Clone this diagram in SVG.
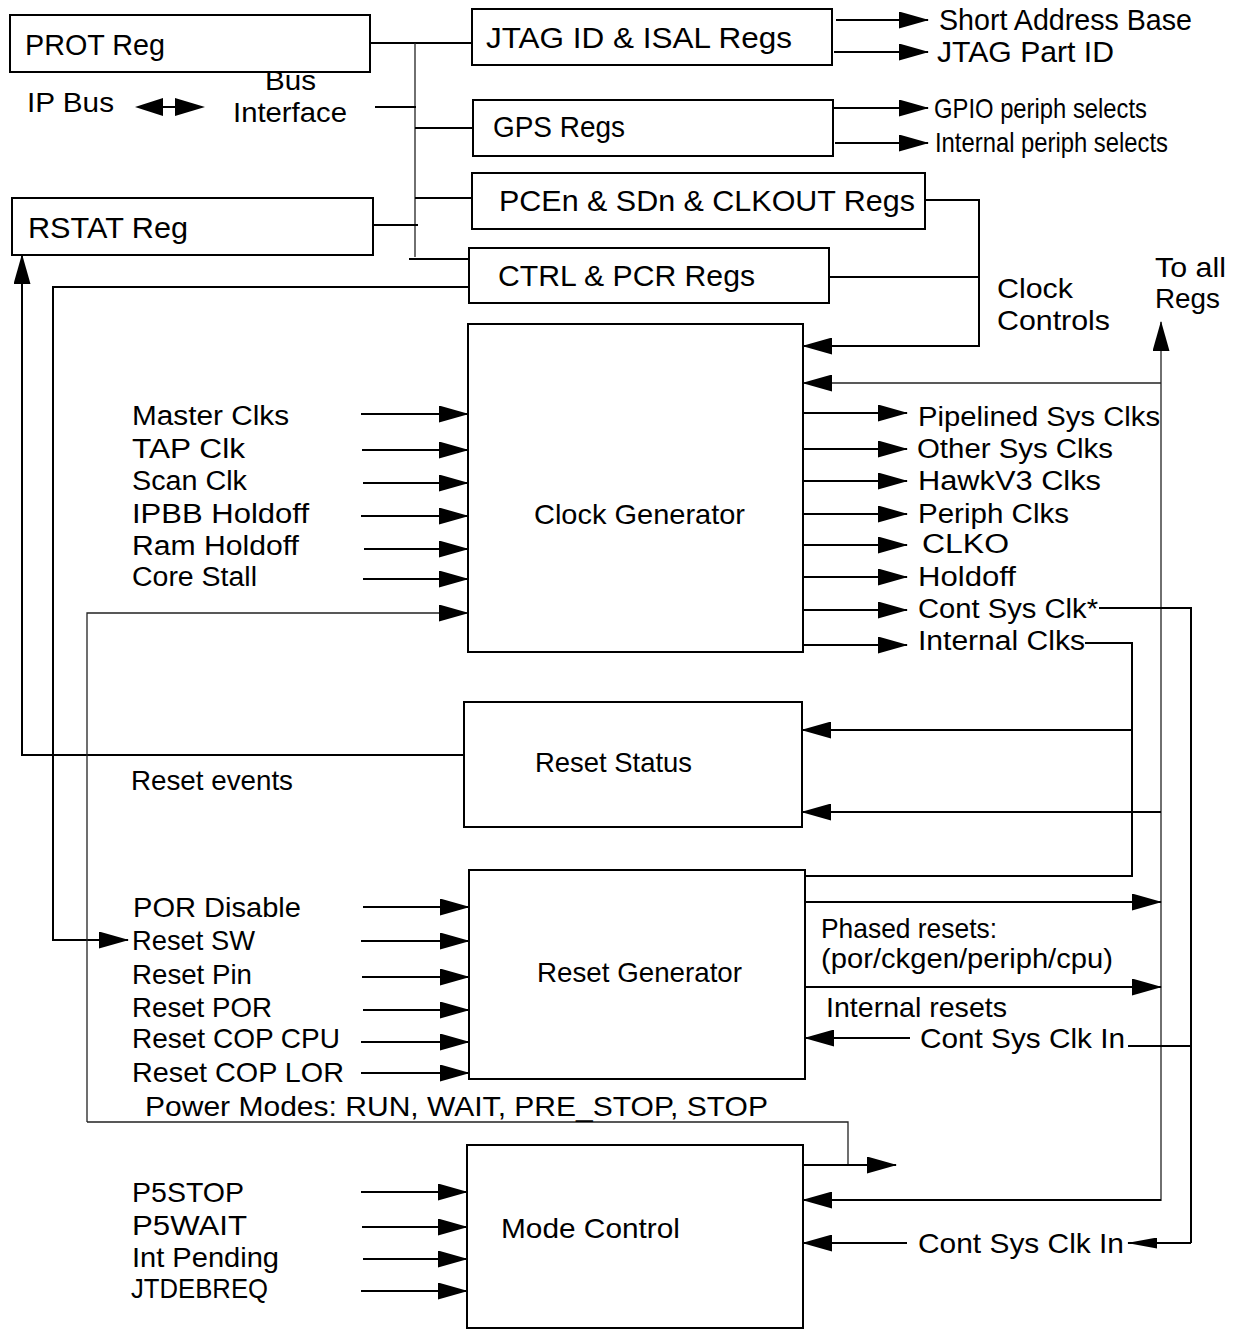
<svg xmlns="http://www.w3.org/2000/svg" width="1238" height="1330" viewBox="0 0 1238 1330">
<style>
.b{fill:#fff;stroke:#000;stroke-width:2}
.t{font-family:"Liberation Sans",Arial,Helvetica,sans-serif;fill:#000;font-size:28px}
.tb{font-size:30px}
.tc{font-size:27px}
.l{fill:none;stroke:#000;stroke-width:2}
.g{fill:none;stroke:#222;stroke-width:1.3}
.a{marker-end:url(#ah)}
</style>
<defs>
<marker id="ah" markerUnits="userSpaceOnUse" markerWidth="30" markerHeight="17" viewBox="0 0 30 17" refX="29" refY="8.5" orient="auto">
<path d="M0,0 L30,8.5 L0,17 z" fill="#000"/>
</marker>
<marker id="ahs" markerUnits="userSpaceOnUse" markerWidth="30" markerHeight="11" viewBox="0 0 30 11" refX="29" refY="5.5" orient="auto">
<path d="M0,0 L30,5.5 L0,11 z" fill="#000"/>
</marker>
</defs>
<rect width="1238" height="1330" fill="#fff"/>

<g id="connectors">
<path class="l" d="M370,43 H472"/>
<path class="g" d="M415,43 V257"/>
<path class="l" d="M375,107 H416"/>
<path class="l" d="M415,128 H473"/>
<path class="l" d="M415,198 H472"/>
<path class="l" d="M373,225 H418"/>
<path class="l" d="M409,259 H469"/>
<path class="l a" d="M469,287 H53 V940 H128"/>
<path class="l a" d="M836,20 H928"/>
<path class="l a" d="M834,52 H928"/>
<path class="l a" d="M833,108 H928"/>
<path class="l a" d="M835,143 H928"/>
<path class="l a" d="M925,200 H979 V346 H803"/>
<path class="l" d="M829,277 H979"/>
<path class="g a" d="M1161,1201 V322"/>
<path class="g a" d="M1161,383 H803"/>
<path class="l a" d="M803,413 H907"/>
<path class="l a" d="M803,449 H907"/>
<path class="l a" d="M803,481 H907"/>
<path class="l a" d="M803,514 H907"/>
<path class="l a" d="M803,545 H907"/>
<path class="l a" d="M803,577 H907"/>
<path class="l a" d="M803,610 H907"/>
<path class="l a" d="M803,645 H907"/>
<path class="l" d="M1099,608 H1191 V1243"/>
<path class="l" d="M1191,1243 H1128" marker-end="url(#ahs)"/>
<path class="l" d="M1128,1046 H1191"/>
<path class="l" d="M1085,643 H1132 V876 H803"/>
<path class="l a" d="M1132,730 H802"/>
<path class="l a" d="M1161,812 H802"/>
<path class="l a" d="M805,902 H1161"/>
<path class="l a" d="M805,987 H1161"/>
<path class="l a" d="M910,1038 H805"/>
<path class="l a" d="M464,755 H22 V255"/>
<path class="g a" d="M87,1122 V613 H468"/>
<path class="g" d="M87,1122 H848 V1165"/>
<path class="l a" d="M803,1165 H896"/>
<path class="l a" d="M1161,1200 H803"/>
<path class="l a" d="M907,1243 H803"/>
<path class="l a" d="M361,414 H468"/>
<path class="l a" d="M362,450 H468"/>
<path class="l a" d="M363,483 H468"/>
<path class="l a" d="M361,516 H468"/>
<path class="l a" d="M364,549 H468"/>
<path class="l a" d="M363,579 H468"/>
<path class="l a" d="M363,907 H469"/>
<path class="l a" d="M361,941 H469"/>
<path class="l a" d="M362,977 H469"/>
<path class="l a" d="M363,1010 H469"/>
<path class="l a" d="M361,1042 H469"/>
<path class="l a" d="M361,1073 H469"/>
<path class="l a" d="M361,1192 H467"/>
<path class="l a" d="M362,1227 H467"/>
<path class="l a" d="M363,1259 H467"/>
<path class="l a" d="M361,1291 H467"/>
<path class="l" d="M163,107 H175"/>
<path d="M135,107 L163,98 L163,116 z" fill="#000"/>
<path d="M205,107 L175,98 L175,116 z" fill="#000"/>
</g>

<g id="prot-reg"><rect class="b" x="10" y="15" width="360" height="57"/><text class="t tb" x="25" y="55" textLength="140" lengthAdjust="spacingAndGlyphs">PROT Reg</text></g>
<g id="rstat-reg"><rect class="b" x="12" y="198" width="361" height="57"/><text class="t tb" x="28" y="238" textLength="160" lengthAdjust="spacingAndGlyphs">RSTAT Reg</text></g>
<g id="jtag-regs"><rect class="b" x="472" y="9" width="360" height="56"/><text class="t tb" x="486" y="48" textLength="306" lengthAdjust="spacingAndGlyphs">JTAG ID &amp; ISAL Regs</text></g>
<g id="gps-regs"><rect class="b" x="473" y="100" width="360" height="56"/><text class="t tb" x="493" y="137" textLength="132" lengthAdjust="spacingAndGlyphs">GPS Regs</text></g>
<g id="pcen-regs"><rect class="b" x="472" y="173" width="453" height="56"/><text class="t tb" x="499" y="211" textLength="416" lengthAdjust="spacingAndGlyphs">PCEn &amp; SDn &amp; CLKOUT Regs</text></g>
<g id="ctrl-regs"><rect class="b" x="469" y="248" width="360" height="55"/><text class="t tb" x="498" y="286" textLength="257" lengthAdjust="spacingAndGlyphs">CTRL &amp; PCR Regs</text></g>
<g id="clock-generator"><rect class="b" x="468" y="324" width="335" height="328"/><text class="t" x="534" y="524" textLength="211" lengthAdjust="spacingAndGlyphs">Clock Generator</text></g>
<g id="reset-status"><rect class="b" x="464" y="702" width="338" height="125"/><text class="t" x="535" y="772" textLength="157" lengthAdjust="spacingAndGlyphs">Reset Status</text></g>
<g id="reset-generator"><rect class="b" x="469" y="870" width="336" height="209"/><text class="t" x="537" y="982" textLength="205" lengthAdjust="spacingAndGlyphs">Reset Generator</text></g>
<g id="mode-control"><rect class="b" x="467" y="1145" width="336" height="183"/><text class="t" x="501" y="1238" textLength="179" lengthAdjust="spacingAndGlyphs">Mode Control</text></g>

<g id="labels">
<text class="t" x="27" y="112" textLength="87" lengthAdjust="spacingAndGlyphs">IP Bus</text>
<text class="t" x="265" y="90" textLength="51" lengthAdjust="spacingAndGlyphs">Bus</text>
<text class="t" x="233" y="122" textLength="114" lengthAdjust="spacingAndGlyphs">Interface</text>
<text class="t tb" x="939" y="30" textLength="253" lengthAdjust="spacingAndGlyphs">Short Address Base</text>
<text class="t tb" x="937" y="62" textLength="177" lengthAdjust="spacingAndGlyphs">JTAG Part ID</text>
<text class="t" x="934" y="118" textLength="213" lengthAdjust="spacingAndGlyphs">GPIO periph selects</text>
<text class="t" x="935" y="152" textLength="233" lengthAdjust="spacingAndGlyphs">Internal periph selects</text>
<text class="t" x="997" y="298" textLength="76" lengthAdjust="spacingAndGlyphs">Clock</text>
<text class="t" x="997" y="330" textLength="113" lengthAdjust="spacingAndGlyphs">Controls</text>
<text class="t" x="1155" y="277" textLength="71" lengthAdjust="spacingAndGlyphs">To all</text>
<text class="t" x="1155" y="308" textLength="65" lengthAdjust="spacingAndGlyphs">Regs</text>
<text class="t tc" x="132" y="425" textLength="157" lengthAdjust="spacingAndGlyphs">Master Clks</text>
<text class="t tc" x="132" y="458" textLength="113" lengthAdjust="spacingAndGlyphs">TAP Clk</text>
<text class="t tc" x="132" y="490" textLength="115" lengthAdjust="spacingAndGlyphs">Scan Clk</text>
<text class="t tc" x="132" y="523" textLength="177" lengthAdjust="spacingAndGlyphs">IPBB Holdoff</text>
<text class="t tc" x="132" y="555" textLength="167" lengthAdjust="spacingAndGlyphs">Ram Holdoff</text>
<text class="t tc" x="132" y="586" textLength="125" lengthAdjust="spacingAndGlyphs">Core Stall</text>
<text class="t tc" x="918" y="426" textLength="242" lengthAdjust="spacingAndGlyphs">Pipelined Sys Clks</text>
<text class="t tc" x="917" y="458" textLength="196" lengthAdjust="spacingAndGlyphs">Other Sys Clks</text>
<text class="t tc" x="918" y="490" textLength="183" lengthAdjust="spacingAndGlyphs">HawkV3 Clks</text>
<text class="t tc" x="918" y="523" textLength="151" lengthAdjust="spacingAndGlyphs">Periph Clks</text>
<text class="t tc" x="922" y="553" textLength="87" lengthAdjust="spacingAndGlyphs">CLKO</text>
<text class="t tc" x="918" y="586" textLength="98" lengthAdjust="spacingAndGlyphs">Holdoff</text>
<text class="t tc" x="918" y="618" textLength="180" lengthAdjust="spacingAndGlyphs">Cont Sys Clk*</text>
<text class="t tc" x="918" y="650" textLength="167" lengthAdjust="spacingAndGlyphs">Internal Clks</text>
<text class="t" x="131" y="790" textLength="162" lengthAdjust="spacingAndGlyphs">Reset events</text>
<text class="t" x="133" y="917" textLength="168" lengthAdjust="spacingAndGlyphs">POR Disable</text>
<text class="t" x="132" y="950" textLength="123" lengthAdjust="spacingAndGlyphs">Reset SW</text>
<text class="t" x="132" y="984" textLength="120" lengthAdjust="spacingAndGlyphs">Reset Pin</text>
<text class="t" x="132" y="1017" textLength="140" lengthAdjust="spacingAndGlyphs">Reset POR</text>
<text class="t" x="132" y="1048" textLength="208" lengthAdjust="spacingAndGlyphs">Reset COP CPU</text>
<text class="t" x="132" y="1082" textLength="212" lengthAdjust="spacingAndGlyphs">Reset COP LOR</text>
<text class="t" x="821" y="938" textLength="176" lengthAdjust="spacingAndGlyphs">Phased resets:</text>
<text class="t" x="821" y="968" textLength="292" lengthAdjust="spacingAndGlyphs">(por/ckgen/periph/cpu)</text>
<text class="t" x="826" y="1017" textLength="181" lengthAdjust="spacingAndGlyphs">Internal resets</text>
<text class="t" x="920" y="1048" textLength="205" lengthAdjust="spacingAndGlyphs">Cont Sys Clk In</text>
<text class="t" x="145" y="1116" textLength="623" lengthAdjust="spacingAndGlyphs">Power Modes: RUN, WAIT, PRE_STOP, STOP</text>
<text class="t" x="132" y="1202" textLength="112" lengthAdjust="spacingAndGlyphs">P5STOP</text>
<text class="t" x="132" y="1235" textLength="115" lengthAdjust="spacingAndGlyphs">P5WAIT</text>
<text class="t" x="132" y="1267" textLength="147" lengthAdjust="spacingAndGlyphs">Int Pending</text>
<text class="t" x="131" y="1298" textLength="137" lengthAdjust="spacingAndGlyphs">JTDEBREQ</text>
<text class="t" x="918" y="1253" textLength="206" lengthAdjust="spacingAndGlyphs">Cont Sys Clk In</text>
</g>
</svg>
